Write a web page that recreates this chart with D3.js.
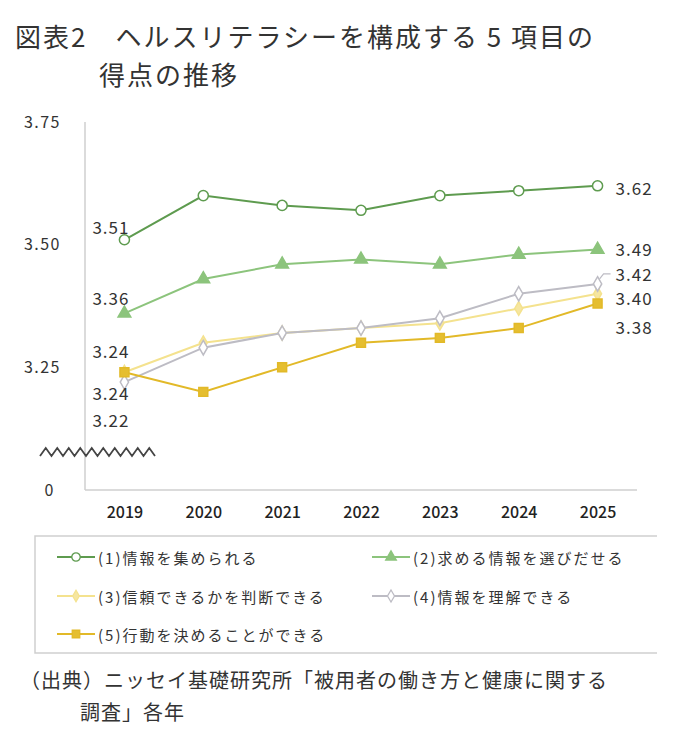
<!DOCTYPE html>
<html>
<head>
<meta charset="utf-8">
<script src="https://cdn.jsdelivr.net/npm/d3@7"></script>
<style>
  body { margin: 0; background: #fff; }
  svg { display: block; font-family: "Noto Sans CJK JP", "Noto Sans", sans-serif; }
</style>
</head>
<body>
<div id="chart"></div>
<script>
// data
var years = ["2019", "2020", "2021", "2022", "2023", "2024", "2025"];
var seriesNames = ["(1)情報を集められる", "(2)求める情報を選びだせる", "(3)信頼できるかを判断できる", "(4)情報を理解できる", "(5)行動を決めることができる"];
var s1 = [3.51, 3.60, 3.58, 3.57, 3.60, 3.61, 3.62];
var s2 = [3.36, 3.43, 3.46, 3.47, 3.46, 3.48, 3.49];
var s3 = [3.24, 3.30, 3.32, 3.33, 3.34, 3.37, 3.40];
var s4 = [3.22, 3.29, 3.32, 3.33, 3.35, 3.40, 3.42];
var s5 = [3.24, 3.20, 3.25, 3.30, 3.31, 3.33, 3.38];
var yTicks = [3.0, 3.25, 3.5, 3.75];
var yTickLabels = ["0", "3.25", "3.50", "3.75"];

var titleLines = ["図表2　ヘルスリテラシーを構成する 5 項目の", "得点の推移"];
var sourceLines = ["（出典）ニッセイ基礎研究所「被用者の働き方と健康に関する", "調査」各年"];

// styles per series (draw order 1,2,3,4,5)
var styles = [
  {color: "#5e9b4f", fill: "#fff",    symbol: d3.symbolCircle,   size: 80},
  {color: "#8cc47c", fill: "#8cc47c", symbol: d3.symbolTriangle, size: 70},
  {color: "#f4e28e", fill: "#f6e6a0", symbol: d3.symbolDiamond,  size: 55},
  {color: "#bdbcc4", fill: "#fff",    symbol: d3.symbolDiamond,  size: 60},
  {color: "#e2b928", fill: "#e5be30", symbol: d3.symbolSquare,   size: 80}
];
// label offsets (first year, last year) in px
var firstDy = [-13, -16, -22, 37, 20];
var lastDy = [2, -1, 4, -10, 23];

var values = [s1, s2, s3, s4, s5];

var W = 680, H = 752;
var svg = d3.select("#chart").append("svg")
  .attr("width", W).attr("height", H);

// title
svg.append("text")
  .attr("x", 15).attr("y", 47)
  .style("font-size", "26px").style("fill", "#333")
  .style("letter-spacing", "2px")
  .text(titleLines[0]);
svg.append("text")
  .attr("x", 99).attr("y", 85)
  .style("font-size", "26px").style("fill", "#333")
  .style("letter-spacing", "2px")
  .text(titleLines[1]);

var x = d3.scalePoint()
  .domain(years)
  .range([85, 637])
  .padding(0.5);

var y = d3.scaleLinear()
  .domain([3.0, 3.75])
  .range([490, 122]);

// axis lines
svg.append("line")
  .attr("x1", 85).attr("x2", 85)
  .attr("y1", y(3.75)).attr("y2", y(3.0))
  .style("stroke", "#cfcfcf").style("stroke-width", 1.5);
svg.append("line")
  .attr("x1", 85).attr("x2", 637)
  .attr("y1", y(3.0)).attr("y2", y(3.0))
  .style("stroke", "#cfcfcf").style("stroke-width", 1.5);

// y axis
svg.append("g")
  .attr("class", "yaxis")
  .attr("transform", "translate(61,0)")
  .style("font-size", "16px")
  .call(d3.axisLeft(y).tickValues(yTicks).tickSize(0)
    .tickFormat(function(d, i) { return yTickLabels[i]; }))
  .call(function(g) { g.select(".domain").remove(); })
  .selectAll("text")
    .attr("x", 0)
    .style("fill", "#333")
    .style("letter-spacing", "1.5px")
    .style("font-family", "\"Noto Sans CJK JP\", sans-serif");
svg.selectAll(".yaxis text").filter(function(d) { return d === 3.0; })
  .attr("x", -6);

// x axis
svg.append("g")
  .attr("transform", "translate(0," + 504 + ")")
  .style("font-size", "16px")
  .call(d3.axisBottom(x).tickSize(0))
  .call(function(g) { g.select(".domain").remove(); })
  .selectAll("text")
    .style("fill", "#222")
    .style("font-weight", "500")
    .style("font-family", "\"Noto Sans CJK JP\", sans-serif");

// break mark on y axis
var zig = [];
for (var i = 0; i <= 20; i++) zig.push([40 + i * 5.75, i % 2 ? 448 : 456]);
svg.append("path")
  .attr("d", d3.line()(zig))
  .style("fill", "none").style("stroke", "#444").style("stroke-width", 1.8);

// lines and markers
var line = d3.line()
  .x(function(d, i) { return x(years[i]); })
  .y(function(d) { return y(d); });

values.forEach(function(vals, k) {
  var st = styles[k];
  var g = svg.append("g");
  g.append("path")
    .attr("d", line(vals))
    .style("fill", "none")
    .style("stroke", st.color)
    .style("stroke-width", 2);
  g.selectAll("path.m")
    .data(vals)
    .enter()
    .append("path")
      .attr("class", "m")
      .attr("transform", function(d, i) { return "translate(" + x(years[i]) + "," + y(d) + ")"; })
      .attr("d", d3.symbol().type(st.symbol).size(st.size))
      .style("fill", st.fill)
      .style("stroke", st.color)
      .style("stroke-width", 1.5);
});

// value labels
var fmt = d3.format(".2f");
values.forEach(function(vals, k) {
  svg.append("text")
    .attr("x", x(years[0]) - 32)
    .attr("y", y(vals[0]) + firstDy[k])
    .attr("dominant-baseline", "central")
    .style("font-size", "17px").style("fill", "#333")
    .style("letter-spacing", "1px")
    .text(fmt(vals[0]));
  var last = vals[vals.length - 1];
  svg.append("text")
    .attr("x", x(years[years.length - 1]) + 18)
    .attr("y", y(last) + lastDy[k])
    .attr("dominant-baseline", "central")
    .style("font-size", "17px").style("fill", "#333")
    .style("letter-spacing", "1px")
    .text(fmt(last));
});

// leader for (4)
var lx = x(years[6]), ly = y(s4[6]);
svg.append("path")
  .attr("d", "M" + (lx + 2) + "," + (ly - 5) + "L" + (lx + 6) + "," + (ly - 10) + "L" + (lx + 13) + "," + (ly - 10))
  .style("fill", "none").style("stroke", "#bdbcc4").style("stroke-width", 1.2);

// legend
var lg = svg.append("g");
lg.append("path")
  .attr("d", "M657,536 H35 V653 H657")
  .style("fill", "none").style("stroke", "#cfcfcf").style("stroke-width", 1.5);

var legPos = [[57, 557], [372, 557], [57, 596], [372, 596], [57, 634]];
seriesNames.forEach(function(name, k) {
  var st = styles[k], p = legPos[k];
  lg.append("line")
    .attr("x1", p[0]).attr("x2", p[0] + 38)
    .attr("y1", p[1]).attr("y2", p[1])
    .style("stroke", st.color).style("stroke-width", 2);
  lg.append("path")
    .attr("transform", "translate(" + (p[0] + 19) + "," + p[1] + ")")
    .attr("d", d3.symbol().type(st.symbol).size(st.size * 0.7))
    .style("fill", st.fill).style("stroke", st.color).style("stroke-width", 1.3);
  lg.append("text")
    .attr("x", p[0] + 41).attr("y", p[1])
    .attr("dominant-baseline", "central")
    .style("font-size", "15px").style("fill", "#333")
    .style("letter-spacing", "2px")
    .text(name);
});

// source
svg.append("text")
  .attr("x", 20).attr("y", 688)
  .style("font-size", "20px").style("fill", "#333")
  .style("letter-spacing", "1px")
  .text(sourceLines[0]);
svg.append("text")
  .attr("x", 80).attr("y", 720)
  .style("font-size", "20px").style("fill", "#333")
  .style("letter-spacing", "1px")
  .text(sourceLines[1]);
</script>
</body>
</html>
